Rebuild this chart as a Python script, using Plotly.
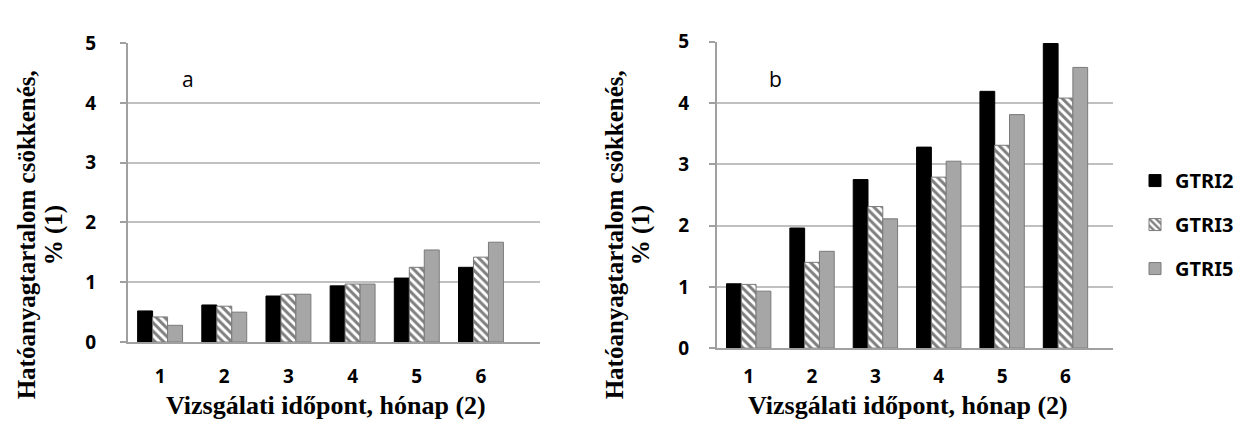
import plotly.graph_objects as go

months = [1, 2, 3, 4, 5, 6]
tick_labels = ["1", "2", "3", "4", "5", "6"]
series_names = ["GTRI2", "GTRI3", "GTRI5"]

# chart a
a_gtri2 = [0.52, 0.62, 0.77, 0.94, 1.07, 1.25]
a_gtri3 = [0.42, 0.60, 0.80, 0.97, 1.25, 1.42]
a_gtri5 = [0.28, 0.50, 0.80, 0.97, 1.54, 1.67]

# chart b
b_gtri2 = [1.05, 1.96, 2.75, 3.28, 4.19, 4.97]
b_gtri3 = [1.04, 1.40, 2.31, 2.79, 3.31, 4.08]
b_gtri5 = [0.93, 1.58, 2.11, 3.05, 3.81, 4.58]

y_title_1 = "Hatóanyagtartalom csökkenés,"
y_title_2 = "% (1)"
x_title = "Vizsgálati időpont, hónap (2)"

SANS = "Noto Sans"
SERIF = "Liberation Serif"
GRID = "#c0c0c0"
EDGE = "#7a7a7a"

styles = [
    dict(color="black", line=dict(color="black", width=1)),
    dict(color="white", line=dict(color=EDGE, width=1),
         pattern=dict(shape="\\", fgcolor="black", bgcolor="white", size=6, solidity=0.5)),
    dict(color="#a6a6a6", line=dict(color=EDGE, width=1)),
]

fig = go.Figure()
for name, vals, st in zip(series_names, [a_gtri2, a_gtri3, a_gtri5], styles):
    fig.add_trace(go.Bar(x=months, y=vals, name=name, marker=st, showlegend=False,
                         xaxis="x", yaxis="y", legendgroup=name))
for name, vals, st in zip(series_names, [b_gtri2, b_gtri3, b_gtri5], styles):
    fig.add_trace(go.Bar(x=months, y=vals, name=name, marker=st, showlegend=True,
                         xaxis="x2", yaxis="y2", legendgroup=name))

W, H = 1244, 434

def px(x):
    return x / W

def py(y):
    return 1 - y / H

TICKFONT = dict(family=SANS, size=19, color="black", weight="bold")

common_x = dict(tickmode="array", tickvals=months, ticktext=tick_labels,
                showgrid=False, zeroline=False, showline=True, linecolor="#a0a0a0",
                linewidth=2, ticks="", tickangle=0, tickfont=TICKFONT)
common_y = dict(range=[0, 5], tickvals=[0, 1, 2, 3, 4, 5], showgrid=True,
                gridcolor=GRID, gridwidth=2, zeroline=False, showline=True,
                linecolor="#a0a0a0", linewidth=2, ticks="outside", ticklen=6,
                tickcolor="#a0a0a0", tickwidth=2, tickfont=TICKFONT)

fig.update_layout(
    width=W, height=H,
    margin=dict(l=0, r=0, t=0, b=0),
    paper_bgcolor="white", plot_bgcolor="white",
    barmode="group", bargap=0.3, bargroupgap=0,
    xaxis=dict(domain=[px(120), px(532)], range=[0.5, 6.92], anchor="y",
               ticklabelstandoff=16, **common_x),
    yaxis=dict(domain=[py(341.5), py(23.5)], anchor="x", ticklabelstandoff=20, **common_y),
    xaxis2=dict(domain=[px(709), px(1105)], range=[0.5, 6.75], anchor="y2",
                ticklabelstandoff=10, **common_x),
    yaxis2=dict(domain=[py(348), py(22)], anchor="x2", ticklabelstandoff=16, **common_y),
    legend=dict(x=px(1127), y=py(149), xanchor="left", yanchor="top",
                font=dict(family=SANS, size=20, color="black", weight="bold"),
                tracegroupgap=15, itemwidth=30, bgcolor="rgba(0,0,0,0)"),
    showlegend=True,
)

ann = []
# y titles
for x0, x1 in [(18, 46), (606, 633)]:
    ann.append(dict(text=y_title_1, x=px(x0), y=py(228), xref="paper", yref="paper",
                    showarrow=False, textangle=-90, xanchor="center", yanchor="middle",
                    font=dict(family=SERIF, size=25, color="black", weight="bold")))
    ann.append(dict(text=y_title_2, x=px(x1), y=py(228), xref="paper", yref="paper",
                    showarrow=False, textangle=-90, xanchor="center", yanchor="middle",
                    font=dict(family=SERIF, size=25, color="black", weight="bold")))
# x titles
for cx in [318, 900]:
    ann.append(dict(text=x_title, x=px(cx), y=py(409), xref="paper", yref="paper",
                    showarrow=False, xanchor="center", yanchor="middle",
                    font=dict(family=SERIF, size=26, color="black", weight="bold")))
# panel letters
for letter, lx in [("a", 180), ("b", 767)]:
    ann.append(dict(text=letter, x=px(lx), y=py(62), xref="paper", yref="paper",
                    showarrow=False, xanchor="center", yanchor="middle",
                    font=dict(family="Open Sans", size=21, color="black")))
fig.update_layout(annotations=ann)

fig.write_html("out.html")
